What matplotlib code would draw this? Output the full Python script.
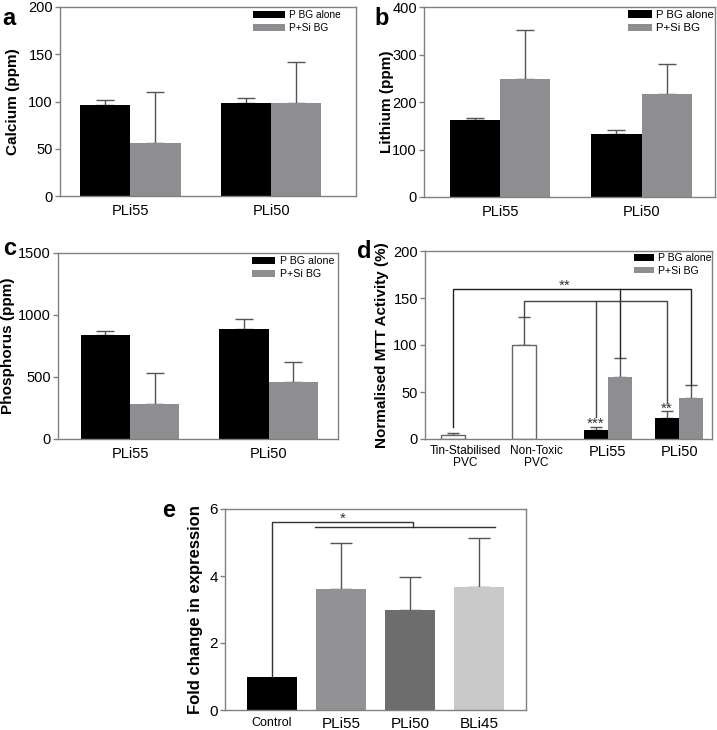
import matplotlib
matplotlib.use('Agg')
import matplotlib.pyplot as plt
import numpy as np

plt.rcParams['font.family'] = ['Liberation Sans', 'DejaVu Sans']

# ---------------- data ----------------
groups = ['PLi55', 'PLi50']
series_names = ['P BG alone', 'P+Si BG']

calcium_pbg = [96, 98.4]
calcium_pbg_top = [101.6, 103.7]
calcium_psi = [55.7, 98]
calcium_psi_top = [110.4, 141.5]

lithium_pbg = [162, 132]
lithium_pbg_top = [165.7, 141]
lithium_psi = [247.7, 217.5]
lithium_psi_top = [352.6, 279]

phos_pbg = [839, 890]
phos_pbg_top = [871, 968]
phos_psi = [282, 462]
phos_psi_top = [530, 619]

mtt_categories = ['Tin-Stabilised\nPVC', 'Non-Toxic\nPVC', 'PLi55', 'PLi50']
mtt_ctrl = [4, 100]
mtt_ctrl_top = [6.5, 129.5]
mtt_pbg = [10, 22.7]
mtt_pbg_top = [13.1, 29.4]
mtt_psi = [65.6, 43.3]
mtt_psi_top = [85.8, 57]
mtt_star_pbg = ['***', '**']
mtt_star_pbg_y = [12.0, 28.0]          # text baselines
mtt_bracket1_y = 159.2
mtt_bracket1_ends = [13, 86, 57]     # Tin, PLi55 grey, PLi50 grey
mtt_bracket1_star = (1.40, 158.5)
mtt_bracket2_y = 146.8
mtt_bracket2_ends = [130, 23, 38]    # Non-Toxic, PLi55 black, PLi50 black

fold_categories = ['Control', 'PLi55', 'PLi50', 'BLi45']
fold_values = [1.0, 3.62, 3.0, 3.66]
fold_tops = [1.0, 5.0, 3.96, 5.12]
fold_colors = ['#000000', '#929296', '#6d6d6d', '#c9c9c9']
fold_bracket_top = 5.61
fold_bracket_low = 5.45
fold_bracket_span = (0.62, 3.23)
fold_bracket_join = 2.04
fold_star = (1.03, 5.58)

BLACK = '#000000'
GREY = '#8e8e92'
SPINE = '#808080'
ERR = '#555555'

W, H = 717, 730
fig = plt.figure(figsize=(W / 100, H / 100), dpi=100)


def add_ax(x0, y0, x1, y1):
    return fig.add_axes([x0 / W, 1 - y1 / H, (x1 - x0) / W, (y1 - y0) / H])


def style(ax, xfs=10.5, yfs=10.5, xpad=5.5):
    for s in ax.spines.values():
        s.set_color(SPINE)
        s.set_linewidth(1)
    ax.tick_params(axis='y', direction='out', length=3.6, width=1, color=SPINE,
                   pad=1.5, labelsize=yfs)
    ax.tick_params(axis='x', length=0, pad=xpad, labelsize=xfs)


def legend(ax, fs, hl_px, hh_px, right_px, top_px, ax_w, ax_h, spacing=0.3):
    fpx = fs * 100 / 72
    ax.legend(loc='upper right', frameon=False, fontsize=fs,
              handlelength=hl_px / fpx, handleheight=hh_px / fpx,
              handletextpad=0.4, labelspacing=spacing, borderpad=0,
              borderaxespad=0,
              bbox_to_anchor=(1 - right_px / ax_w, 1 - top_px / ax_h))


def errbar(ax, x, vals, tops, capsize):
    vals = np.asarray(vals, float)
    up = np.asarray(tops, float) - vals
    ax.errorbar(x, vals, yerr=[np.zeros_like(vals), up], fmt='none',
                ecolor=ERR, elinewidth=1, capsize=capsize, capthick=1, zorder=1)


def grouped(ax, pbg, pbg_top, psi, psi_top, ylim, yticks, ylabel, xlim,
            label_x, ax_w, ax_h, leg):
    x = np.arange(len(groups))
    w = 0.355
    ax.bar(x - w / 2, pbg, w, color=BLACK, label=series_names[0], zorder=2)
    ax.bar(x + w / 2, psi, w, color=GREY, label=series_names[1], zorder=2)
    errbar(ax, x - w / 2, pbg, pbg_top, 6.5)
    errbar(ax, x + w / 2, psi, psi_top, 6.5)
    ax.set_xlim(*xlim)
    ax.set_ylim(*ylim)
    ax.set_yticks(yticks)
    ax.set_xticks(x)
    ax.set_xticklabels(groups)
    ax.set_ylabel(ylabel, fontsize=11, fontweight='bold')
    ax.yaxis.set_label_coords(label_x, 0.5)
    style(ax)
    legend(ax, *leg, ax_w, ax_h)


# ---- a ----
axa = add_ax(60, 7, 356, 196)
grouped(axa, calcium_pbg, calcium_pbg_top, calcium_psi, calcium_psi_top,
        (0, 200), [0, 50, 100, 150, 200], 'Calcium (ppm)', (-0.5, 1.6),
        -0.135, 296, 189, (7.3, 32, 8, 15, 3))

# ---- b ----
axb = add_ax(424, 7, 715, 197)
grouped(axb, lithium_pbg, lithium_pbg_top, lithium_psi, lithium_psi_top,
        (0, 400), [0, 100, 200, 300, 400], 'Lithium (ppm)', (-0.54, 1.52),
        -0.103, 291, 190, (8.2, 24, 7, 1, 3))

# ---- c ----
axc = add_ax(58, 253, 338, 439)
grouped(axc, phos_pbg, phos_pbg_top, phos_psi, phos_psi_top,
        (0, 1500), [0, 500, 1000, 1500], 'Phosphorus (ppm)', (-0.52, 1.5),
        -0.154, 280, 186, (7.7, 23, 7, 4, 3))

# ---- d ----
axd = add_ax(425, 251, 712, 439)
xd = np.arange(len(mtt_categories))
wd = 0.337
axd.bar(xd[:2] - wd / 2, mtt_ctrl, wd, color='white', edgecolor='#666666',
        linewidth=1, zorder=2)
axd.bar(xd[2:] - wd / 2, mtt_pbg, wd, color=BLACK, label=series_names[0], zorder=2)
axd.bar(xd[2:] + wd / 2, mtt_psi, wd, color=GREY, label=series_names[1], zorder=2)
errbar(axd, xd[:2] - wd / 2, mtt_ctrl, mtt_ctrl_top, 4.5)
errbar(axd, xd[2:] - wd / 2, mtt_pbg, mtt_pbg_top, 4.5)
errbar(axd, xd[2:] + wd / 2, mtt_psi, mtt_psi_top, 4.5)
for xi, s, yy in zip(xd[2:] - wd / 2, mtt_star_pbg, mtt_star_pbg_y):
    axd.text(xi, yy, s, ha='center', va='baseline', fontsize=11, color='#333333', zorder=4)

# brackets
bx1 = [xd[0] - wd / 2, xd[2] + wd / 2, xd[3] + wd / 2]
bx2 = [xd[1] - wd / 2, xd[2] - wd / 2, xd[3] - wd / 2]
lc = '#222222'
axd.plot([bx1[0], bx1[0], bx1[2], bx1[2]],
         [mtt_bracket1_ends[0], mtt_bracket1_y, mtt_bracket1_y, mtt_bracket1_ends[2]],
         color=lc, lw=1, zorder=3)
axd.plot([bx1[1], bx1[1]], [mtt_bracket1_y, mtt_bracket1_ends[1]], color=lc, lw=1, zorder=3)
axd.plot([bx2[0], bx2[0], bx2[2], bx2[2]],
         [mtt_bracket2_ends[0], mtt_bracket2_y, mtt_bracket2_y, mtt_bracket2_ends[2]],
         color='#444444', lw=1, zorder=3)
axd.plot([bx2[1], bx2[1]], [mtt_bracket2_y, mtt_bracket2_ends[1]], color='#444444', lw=1, zorder=3)
axd.text(mtt_bracket1_star[0], mtt_bracket1_star[1], '**', ha='center', va='baseline',
         fontsize=11, color='#333333')

axd.set_xlim(-0.56, 3.46)
axd.set_ylim(0, 200)
axd.set_yticks([0, 50, 100, 150, 200])
axd.set_xticks(xd)
axd.set_xticklabels(mtt_categories, linespacing=1.0)
axd.set_ylabel('Normalised MTT Activity (%)', fontsize=11, fontweight='bold')
axd.yaxis.set_label_coords(-0.125, 0.5)
style(axd, xpad=4)
for i, lbl in enumerate(axd.get_xticklabels()):
    lbl.set_fontsize(8.6 if i < 2 else 10.5)
legend(axd, 7.6, 20, 6, 0, 2, 287, 188, spacing=0.25)

# ---- e ----
axe = add_ax(225, 509, 526, 710)
xe = np.arange(len(fold_categories))
we = 0.72
axe.bar(xe, fold_values, we, color=fold_colors, zorder=2)
errbar(axe, xe[1:], fold_values[1:], fold_tops[1:], 8)
axe.plot([xe[0], xe[0], fold_bracket_join, fold_bracket_join],
         [fold_values[0], fold_bracket_top, fold_bracket_top, fold_bracket_low],
         color='#333333', lw=1, zorder=3)
axe.plot(list(fold_bracket_span), [fold_bracket_low, fold_bracket_low],
         color='#333333', lw=1, zorder=3)
axe.text(fold_star[0], fold_star[1], '*', ha='center', va='baseline', fontsize=11,
         color='#333333')
axe.set_xlim(-0.68, 3.68)
axe.set_ylim(0, 6)
axe.set_yticks([0, 2, 4, 6])
axe.set_xticks(xe)
axe.set_xticklabels(fold_categories)
axe.set_ylabel('Fold change in expression', fontsize=12, fontweight='bold')
axe.yaxis.set_label_coords(-0.073, 0.5)
style(axe, xfs=11, yfs=11, xpad=5)
for i, lbl in enumerate(axe.get_xticklabels()):
    lbl.set_fontsize(9 if i == 0 else 11)

# panel letters
for letter, x, y in [('a', 2, 25), ('b', 374, 25), ('c', 3, 255), ('d', 357, 258), ('e', 162, 517)]:
    fig.text(x / W, 1 - y / H, letter, fontsize=17, fontweight='bold', va='baseline', ha='left')

fig.savefig('out.png', dpi=100)
